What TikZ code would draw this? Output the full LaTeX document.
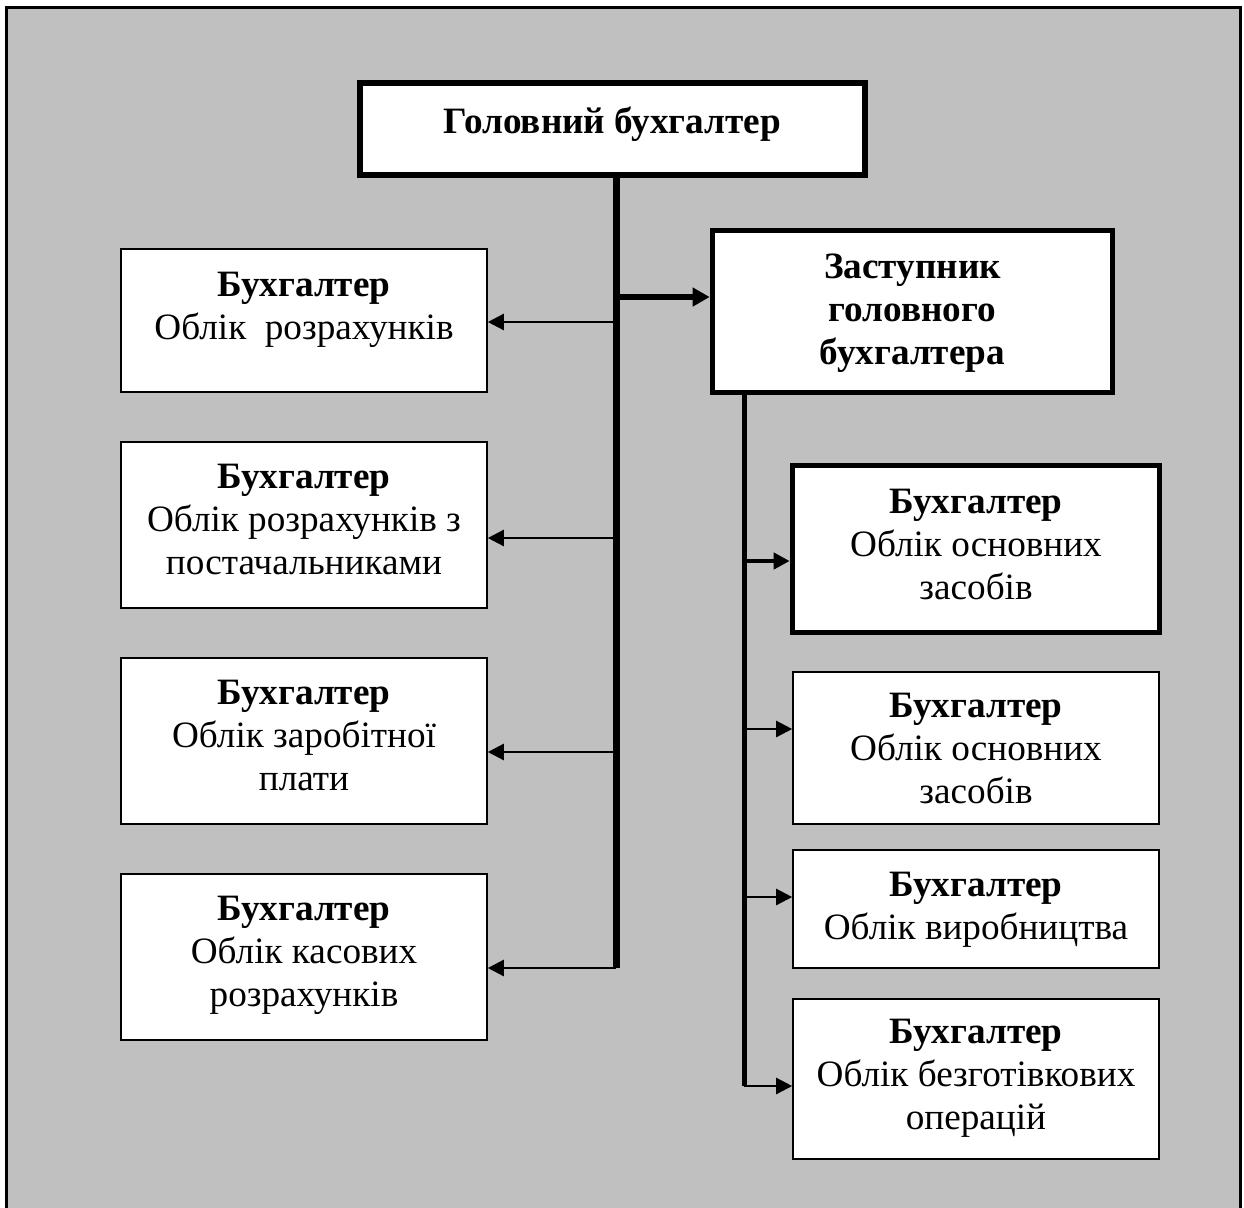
\documentclass[tikz,border=0pt]{standalone}
\usepackage{fontspec}
\setmainfont{Liberation Serif}
\usetikzlibrary{arrows.meta}
\begin{document}
\begin{tikzpicture}[x=0.5pt,y=-0.5pt, line join=miter,
	font=\fontsize{18.6}{21.5}\selectfont,
	box/.style={draw, fill=white, line width=0.8pt, align=center, inner sep=0pt, minimum width=183pt},
	boldbox/.style={box, line width=2.8pt},
	thinarr/.style={-{Triangle[length=8pt,width=8pt]}, line width=1.2pt},
	thickarr/.style={-{Triangle[length=8.5pt,width=9pt]}, line width=3pt}]
	\clip (0,0) rectangle (1244,1207);
	\fill[white] (0,0) rectangle (1244,1207);
	\draw[fill={rgb,255:red,192;green,192;blue,192}, line width=1.5pt] (6.5,7) rectangle (1240.5,1230);
	% heads
	\node[boldbox, minimum width=252.5pt, minimum height=46pt] (head) at (612.5,129) {\textbf{Головний бухгалтер}\\[-12.5pt]};
	\node[boldbox, minimum width=200pt, minimum height=81pt] (dep) at (912.5,311.5) {\textbf{Заступник}\\\textbf{головного}\\\textbf{бухгалтера}\\[-19.5pt]};
	% left column
	\node[box, minimum height=71.5pt] (l1) at (304,320.5) {\textbf{Бухгалтер}\\Облік~ розрахунків\\[-6.5pt]};
	\node[box, minimum height=83pt] (l2) at (304,525) {\textbf{Бухгалтер}\\Облік розрахунків з\\постачальниками\\[-15.5pt]};
	\node[box, minimum height=83pt] (l3) at (304,741) {\textbf{Бухгалтер}\\Облік заробітної\\плати\\[-15.5pt]};
	\node[box, minimum height=83pt] (l4) at (304,957) {\textbf{Бухгалтер}\\Облік касових\\розрахунків\\[-15.5pt]};
	% right column
	\node[boldbox, minimum width=183.5pt, minimum height=83.5pt] (r1) at (976,549) {\textbf{Бухгалтер}\\Облік основних\\засобів\\[-16.5pt]};
	\node[box, minimum height=76pt] (r2) at (976,748) {\textbf{Бухгалтер}\\Облік основних\\засобів};
	\node[box, minimum height=59pt] (r3) at (976,909) {\textbf{Бухгалтер}\\Облік виробництва\\[-18pt]};
	\node[box, minimum height=80pt] (r4) at (976,1079) {\textbf{Бухгалтер}\\Облік безготівкових\\операцій\\[-16.5pt]};
	% trunks
	\coordinate (t0) at (616,297);
	\coordinate (tend) at (616,968);
	\draw[line width=3.5pt] (tend |- head.south) -- (tend);
	\coordinate (s0) at (744,1086);
	\draw[line width=2.5pt] (s0 |- dep.south) -- (s0);
	\draw[thickarr] (t0) -- (t0 -| dep.west);
	\foreach \n/\y in {l1/322, l2/538, l3/752, l4/968}
		\draw[thinarr] (616,\y) -- (\n.east |- 0,\y);
	\draw[thinarr, line width=2pt] (744,561) -- (r1.west |- 0,561);
	\foreach \n/\y in {r2/729, r3/897, r4/1086}
		\draw[thinarr] (744,\y) -- (\n.west |- 0,\y);
\end{tikzpicture}
\end{document}
